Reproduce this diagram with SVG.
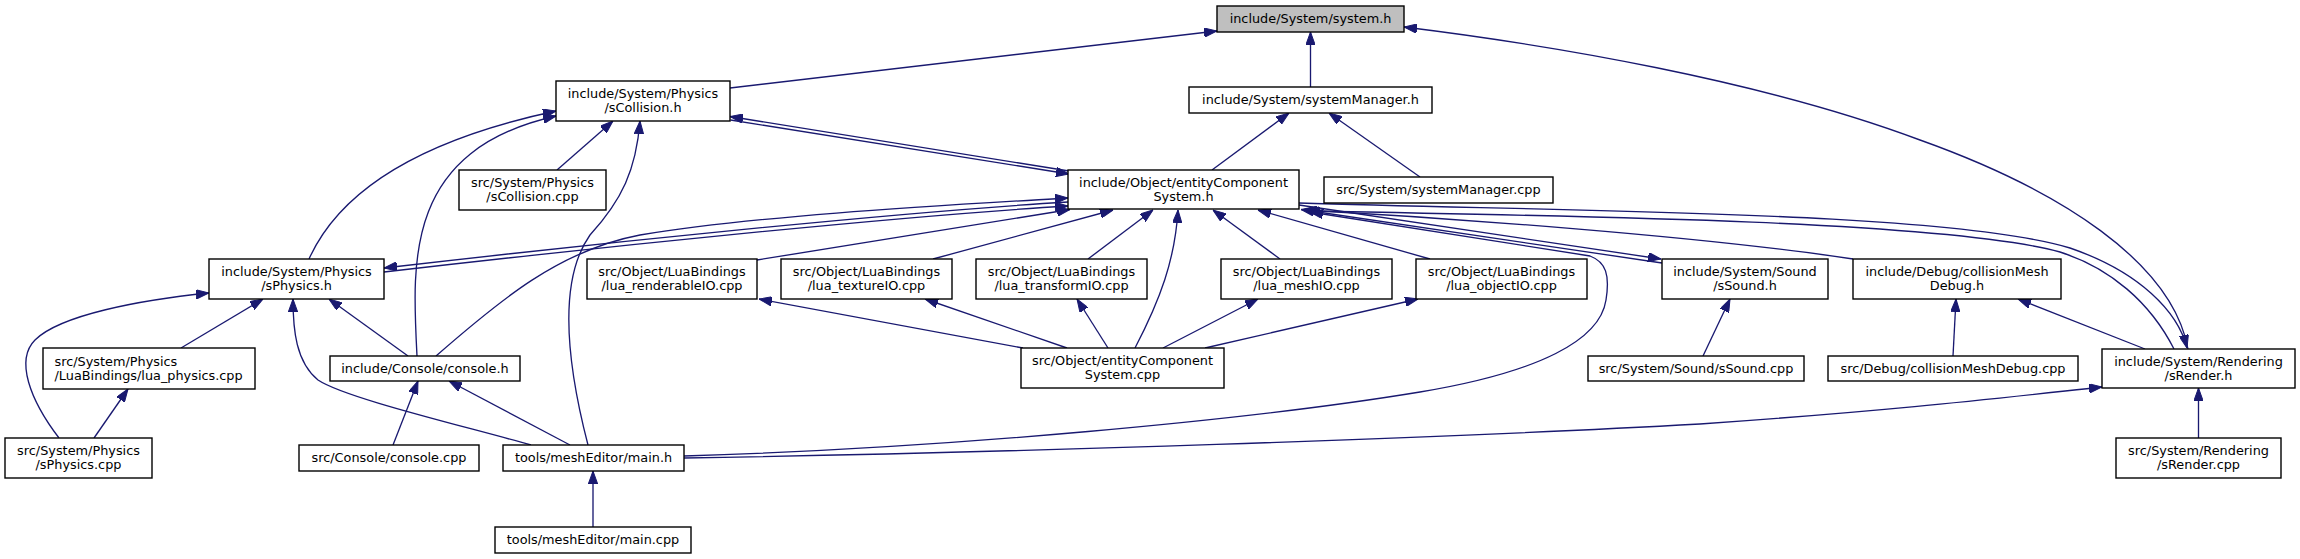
<svg xmlns="http://www.w3.org/2000/svg" width="2300" height="559" viewBox="0 0 2300 559">
<defs>
<style>
.n rect{fill:#ffffff;stroke:#000000;stroke-width:1.4}
.n.root rect{fill:#bfbfbf}
.n text{font-family:"DejaVu Sans","Liberation Sans",sans-serif;font-size:12.85px;fill:#000000;text-anchor:middle}
.n text.l{text-anchor:start}
#edges path{fill:none;stroke:#191970;stroke-width:1.33;marker-end:url(#ah)}
</style>
<marker id="ah" viewBox="0 0 13 9.4" refX="13" refY="4.7" markerWidth="13" markerHeight="9.4" markerUnits="userSpaceOnUse" orient="auto">
<path d="M0,0 L13,4.7 L0,9.4 z" fill="#191970" stroke="#191970" stroke-width="1"/>
</marker>
</defs>
<rect x="0" y="0" width="2300" height="559" fill="#ffffff"/>
<g id="edges">
<path d="M730,88 L1217,31"/>
<path d="M1310.5,87 L1310.5,32"/>
<path d="M2188,349 C2172,262 2060,190 1920,140 C1760,80 1550,45 1404,27"/>
<path d="M1069,171 L730,116.5"/>
<path d="M730.5,120 L1069,174"/>
<path d="M557,170 L613,121"/>
<path d="M309,259 C340,190 420,140 556,111"/>
<path d="M417,356 C412,260 405,150 556,116"/>
<path d="M588,445 C566,360 558,280 590,235 C622,200 636,170 640,121"/>
<path d="M1212,170 L1289,113"/>
<path d="M1420,177 L1329,113"/>
<path d="M436,356 C500,300 560,250 640,235 C760,215 950,205 1068,198"/>
<path d="M1068,202 C900,212 600,243 384,268"/>
<path d="M384,272 C600,247 900,216 1068,206"/>
<path d="M757,260 L1070,209.5"/>
<path d="M933,259 L1113,210"/>
<path d="M1088,259 L1153,210"/>
<path d="M1135,348 C1160,300 1175,260 1178,210"/>
<path d="M1280,259 L1213,210"/>
<path d="M1430,259 L1258,210"/>
<path d="M1299,205 L1661,259"/>
<path d="M1662,263 L1301,209.5"/>
<path d="M1853,259 C1700,236 1450,218 1304,210"/>
<path d="M1299,203 C1600,212 1950,212 2070,248 C2140,272 2178,312 2187,348"/>
<path d="M2174,349 C2150,302 2110,268 2060,252 C1950,222 1600,216 1307,211"/>
<path d="M684,456 C950,448 1250,420 1420,392 C1540,372 1600,340 1606,300 C1610,275 1606,262 1590,256 L1310,212"/>
<path d="M684,458 C1000,453 1450,438 1700,424 C1900,410 2000,398 2102,387"/>
<path d="M2145,349 L2018,299"/>
<path d="M1953,356 L1956,299"/>
<path d="M1703,356 L1730,299"/>
<path d="M2198.5,438 L2198.5,388"/>
<path d="M181,348 L263,299"/>
<path d="M59,438 C30,400 15,360 35,340 C60,315 140,300 209,293"/>
<path d="M94,438 L128,389"/>
<path d="M531,445 C460,425 345,398 318,380 C296,362 293,330 293,299"/>
<path d="M408,356 L329,299"/>
<path d="M393,445 L418,381"/>
<path d="M570,445 L449,381"/>
<path d="M593,527 L593,471"/>
<path d="M1023,348 L759,299"/>
<path d="M1067,348 L925,299"/>
<path d="M1108,348 L1077,299"/>
<path d="M1163,348 L1258,299"/>
<path d="M1205,348 L1418,299"/>
</g>
<g id="n_system_h" class="n root"><rect x="1217" y="6" width="187" height="26"/><text x="1310.5" y="23.2">include/System/system.h</text></g>
<g id="n_sCollision_h" class="n"><rect x="556" y="81" width="174" height="40"/><text x="643" y="98">include/System/Physics</text><text x="643" y="112.4">/sCollision.h</text></g>
<g id="n_systemManager_h" class="n"><rect x="1189" y="87" width="243" height="26"/><text x="1310.5" y="104.2">include/System/systemManager.h</text></g>
<g id="n_sCollision_cpp" class="n"><rect x="459" y="170" width="147" height="40"/><text x="532.5" y="187">src/System/Physics</text><text x="532.5" y="201.4">/sCollision.cpp</text></g>
<g id="n_ecs_h" class="n"><rect x="1068" y="170" width="231" height="39"/><text x="1183.5" y="186.7">include/Object/entityComponent</text><text x="1183.5" y="201.1">System.h</text></g>
<g id="n_systemManager_cpp" class="n"><rect x="1324" y="177" width="229" height="26"/><text x="1438.5" y="194.2">src/System/systemManager.cpp</text></g>
<g id="n_sPhysics_h" class="n"><rect x="209" y="259" width="175" height="40"/><text x="296.5" y="276">include/System/Physics</text><text x="296.5" y="290.4">/sPhysics.h</text></g>
<g id="n_renderableIO" class="n"><rect x="587" y="259" width="170" height="40"/><text x="672" y="276">src/Object/LuaBindings</text><text x="672" y="290.4">/lua_renderableIO.cpp</text></g>
<g id="n_textureIO" class="n"><rect x="781" y="259" width="171" height="40"/><text x="866.5" y="276">src/Object/LuaBindings</text><text x="866.5" y="290.4">/lua_textureIO.cpp</text></g>
<g id="n_transformIO" class="n"><rect x="976" y="259" width="171" height="40"/><text x="1061.5" y="276">src/Object/LuaBindings</text><text x="1061.5" y="290.4">/lua_transformIO.cpp</text></g>
<g id="n_meshIO" class="n"><rect x="1221" y="259" width="171" height="40"/><text x="1306.5" y="276">src/Object/LuaBindings</text><text x="1306.5" y="290.4">/lua_meshIO.cpp</text></g>
<g id="n_objectIO" class="n"><rect x="1416" y="259" width="171" height="40"/><text x="1501.5" y="276">src/Object/LuaBindings</text><text x="1501.5" y="290.4">/lua_objectIO.cpp</text></g>
<g id="n_sSound_h" class="n"><rect x="1662" y="259" width="166" height="40"/><text x="1745" y="276">include/System/Sound</text><text x="1745" y="290.4">/sSound.h</text></g>
<g id="n_collisionMeshDebug_h" class="n"><rect x="1853" y="259" width="208" height="40"/><text x="1957" y="276">include/Debug/collisionMesh</text><text x="1957" y="290.4">Debug.h</text></g>
<g id="n_lua_physics" class="n"><rect x="43" y="348" width="212" height="41"/><text class="l" x="54.5" y="365.5">src/System/Physics</text><text class="l" x="54.5" y="379.9">/LuaBindings/lua_physics.cpp</text></g>
<g id="n_console_h" class="n"><rect x="330" y="356" width="190" height="25"/><text x="425" y="372.8">include/Console/console.h</text></g>
<g id="n_ecs_cpp" class="n"><rect x="1021" y="348" width="203" height="40"/><text x="1122.5" y="365">src/Object/entityComponent</text><text x="1122.5" y="379.4">System.cpp</text></g>
<g id="n_sSound_cpp" class="n"><rect x="1588" y="356" width="216" height="25"/><text x="1696" y="372.8">src/System/Sound/sSound.cpp</text></g>
<g id="n_collisionMeshDebug_cpp" class="n"><rect x="1828" y="356" width="250" height="25"/><text x="1953" y="372.8">src/Debug/collisionMeshDebug.cpp</text></g>
<g id="n_sRender_h" class="n"><rect x="2102" y="349" width="193" height="39"/><text x="2198.5" y="365.6">include/System/Rendering</text><text x="2198.5" y="380">/sRender.h</text></g>
<g id="n_sPhysics_cpp" class="n"><rect x="5" y="438" width="147" height="40"/><text x="78.5" y="455">src/System/Physics</text><text x="78.5" y="469.4">/sPhysics.cpp</text></g>
<g id="n_console_cpp" class="n"><rect x="299" y="445" width="180" height="26"/><text x="389" y="462.2">src/Console/console.cpp</text></g>
<g id="n_main_h" class="n"><rect x="503" y="445" width="181" height="26"/><text x="593.5" y="462.2">tools/meshEditor/main.h</text></g>
<g id="n_sRender_cpp" class="n"><rect x="2116" y="438" width="165" height="40"/><text x="2198.5" y="455">src/System/Rendering</text><text x="2198.5" y="469.4">/sRender.cpp</text></g>
<g id="n_main_cpp" class="n"><rect x="495" y="527" width="196" height="26"/><text x="593" y="544.2">tools/meshEditor/main.cpp</text></g>
</svg>
